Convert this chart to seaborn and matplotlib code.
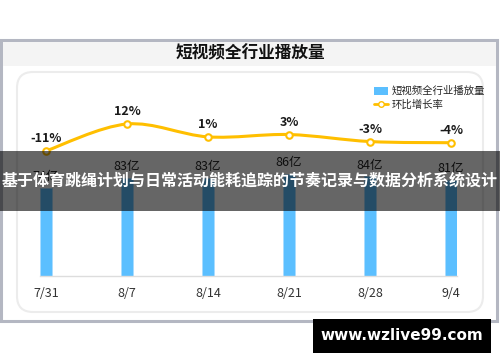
import numpy as np
import pandas as pd
import matplotlib
matplotlib.use("Agg")
import matplotlib.pyplot as plt
import seaborn as sns
from matplotlib.patches import Rectangle, FancyBboxPatch, Patch, PathPatch
from matplotlib.path import Path
from matplotlib.lines import Line2D

# data
dates = ["7/31", "8/7", "8/14", "8/21", "8/28", "9/4"]
plays = [74, 83, 83, 86, 84, 81]          # 亿
growth = [-11, 12, 1, 3, -3, -4]          # %

title = "短视频全行业播放量"
bar_name = "短视频全行业播放量"
line_name = "环比增长率"
banner = "基于体育跳绳计划与日常活动能耗追踪的节奏记录与数据分析系统设计"
site = "www.wzlive99.com"

sns.set_theme(style="white")
plt.rcParams["font.family"] = ["Noto Sans CJK SC", "DejaVu Sans"]

bar_color = "#5bbfff"
line_color = "#ffbf00"

df = pd.DataFrame({"date": dates, "plays": plays, "growth": growth})

fig = plt.figure(figsize=(5, 3.62), dpi=100)

# background card, pixel coordinates
bg = fig.add_axes([0, 0, 1, 1])
bg.set_xlim(0, 500)
bg.set_ylim(362, 0)
bg.axis("off")
bg.add_patch(Rectangle((1, 40), 496, 281, facecolor="white", edgecolor="#b4b7c2", lw=2.2))
bg.add_patch(Rectangle((2.5, 41.5), 493, 24, facecolor="#f4f4f4", edgecolor="none"))
bg.add_patch(FancyBboxPatch((17, 72), 466, 240, boxstyle="round,pad=0,rounding_size=16",
                            facecolor="white", edgecolor="#ececec", lw=1.5))
bg.text(250, 53, title, ha="center", va="center", fontsize=12, fontweight="bold", color="#111111")

# chart
x0, x1 = 40, 457
base, top = 276, 71
ax = fig.add_axes([x0 / 500, (362 - base) / 362, (x1 - x0) / 500, (base - top) / 362])
ax.patch.set_alpha(0)
bw = 12 / 81
sns.barplot(data=df, x="date", y="plays", color=bar_color, width=bw, saturation=1,
            edgecolor="#a9dcff", linewidth=0.6, ax=ax)
ax.set_xlim(-bw / 2, len(dates) - 1 + bw / 2)
ax.set_ylim(0, 205 / 1.186)
for i, v in enumerate(plays):
    ax.text(i, v + 4, f"{v}亿", ha="center", va="bottom", fontsize=9, color="#222222")
for s in ["top", "right", "left"]:
    ax.spines[s].set_visible(False)
ax.spines["bottom"].set_color("#dddddd")
ax.spines["bottom"].set_linewidth(1)
ax.set_yticks([])
ax.set_xlabel("")
ax.set_ylabel("")
ax.tick_params(axis="x", length=0, pad=8, labelsize=9, labelcolor="#333333")

ax2 = ax.twinx()
ymin = 12 - 152 / 1.17
ax2.set_ylim(ymin, ymin + 205 / 1.17)

# smooth curve through the points (bezier segments built from the data)
xs = np.arange(len(dates), dtype=float)
ys = np.array(growth, dtype=float)
verts = [(xs[0], ys[0])]
codes = [Path.MOVETO]
t = 0.5 / 3
for i in range(len(xs) - 1):
    p0 = (xs[max(i - 1, 0)], ys[max(i - 1, 0)])
    p1 = (xs[i], ys[i])
    p2 = (xs[i + 1], ys[i + 1])
    p3 = (xs[min(i + 2, len(xs) - 1)], ys[min(i + 2, len(xs) - 1)])
    c1 = (p1[0] + (p2[0] - p0[0]) * t, p1[1] + (p2[1] - p0[1]) * t)
    c2 = (p2[0] - (p3[0] - p1[0]) * t, p2[1] - (p3[1] - p1[1]) * t)
    verts += [c1, c2, p2]
    codes += [Path.CURVE4] * 3
ax2.add_patch(PathPatch(Path(verts, codes), facecolor="none", edgecolor=line_color, lw=2.2))
sns.scatterplot(x=xs, y=ys, color="white", edgecolor=line_color, linewidth=1.5, s=22,
                zorder=3, ax=ax2)
for i, v in enumerate(growth):
    ax2.text(i, v + 5, f"{v}%", ha="center", va="bottom", fontsize=9, fontweight="bold",
             color="#1a1a1a")
ax2.axis("off")

handles = [Patch(facecolor=bar_color, edgecolor="none"),
           Line2D([0], [0], color=line_color, lw=2, marker="o", markersize=4,
                  markerfacecolor="white", markeredgecolor=line_color)]
fig.legend(handles, [bar_name, line_name], loc="upper left",
           bbox_to_anchor=(370 / 500, 1 - 82 / 362), frameon=False, fontsize=7.5,
           handlelength=1.3, handleheight=0.8, handletextpad=0.4, labelspacing=0.35,
           borderaxespad=0)

# overlay banner and site box
ov = fig.add_axes([0, 0, 1, 1], zorder=10)
ov.set_xlim(0, 500)
ov.set_ylim(362, 0)
ov.axis("off")
ov.add_patch(Rectangle((0, 151), 500, 60, facecolor="black", alpha=0.6, edgecolor="none"))
ov.text(250, 181, banner, ha="center", va="center", fontsize=11.5, fontweight="bold", color="white")
ov.add_patch(Rectangle((313, 319), 178, 34, facecolor="black", edgecolor="none"))
ov.text(402, 336, site, ha="center", va="center", fontsize=11, fontweight="bold", color="white",
        family="DejaVu Sans")

fig.savefig("out.png", dpi=100)
